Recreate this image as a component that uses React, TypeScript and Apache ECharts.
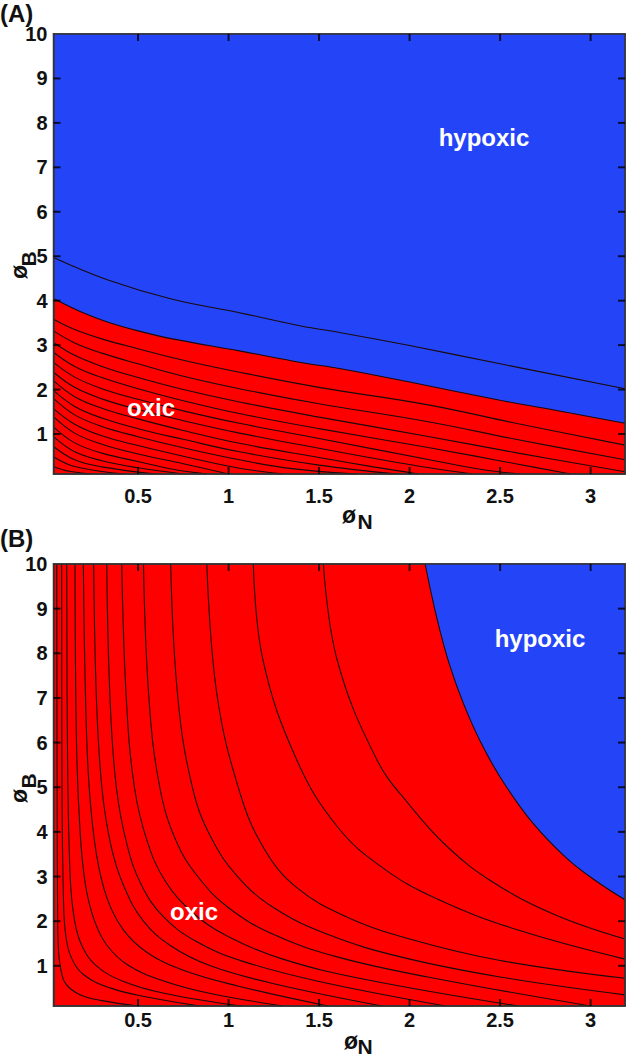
import React, { useEffect, useRef } from "react";
import * as echarts from "echarts";

// ---------- axes ----------
const X_MIN = 0.033;
const X_MAX = 3.19;
const Y_MIN = 0.1;
const Y_MAX = 10;
const xTickValues = [0.5, 1, 1.5, 2, 2.5, 3];
const yTickValues = [1, 2, 3, 4, 5, 6, 7, 8, 9, 10];

// ---------- panel A ----------
const boundaryA = [
  [0.033, 4.05], [0.2, 3.72], [0.33, 3.52], [0.5, 3.32], [0.69, 3.14], [1.06, 2.87],
  [1.4, 2.61], [1.62, 2.47], [2.0, 2.17], [2.5, 1.76], [2.85, 1.5], [3.19, 1.24],
];
const upperLineA = [
  [0.033, 4.97], [0.33, 4.47], [0.69, 4.03], [1.06, 3.73], [1.4, 3.43], [1.62, 3.28],
  [2.0, 2.99], [2.5, 2.58], [3.19, 2.02],
];
const contoursA = [
  [[0.033, 3.58], [0.15, 3.35], [0.3, 3.14], [0.5, 2.92], [0.75, 2.66], [1.06, 2.39], [1.5, 2.05], [2.11, 1.65], [2.6, 1.23], [3.19, 0.75]],
  [[0.033, 3.32], [0.15, 3.05], [0.3, 2.82], [0.5, 2.58], [0.75, 2.3], [1.06, 2.02], [1.5, 1.68], [2.11, 1.27], [2.6, 0.87], [3.19, 0.42]],
  [[0.033, 3.06], [0.15, 2.77], [0.3, 2.52], [0.5, 2.27], [0.75, 2.0], [1.06, 1.72], [1.5, 1.38], [2.11, 0.94], [2.6, 0.57], [3.19, 0.15]],
  [[0.033, 2.84], [0.15, 2.52], [0.3, 2.27], [0.5, 2.02], [0.75, 1.75], [1.06, 1.46], [1.5, 1.12], [2.11, 0.69], [2.6, 0.32], [2.89, 0.1]],
  [[0.033, 2.61], [0.15, 2.28], [0.3, 2.02], [0.5, 1.78], [0.75, 1.52], [1.06, 1.24], [1.5, 0.9], [2.11, 0.42], [2.4, 0.2], [2.61, 0.1]],
  [[0.033, 2.39], [0.15, 2.05], [0.3, 1.79], [0.5, 1.55], [0.75, 1.3], [1.06, 1.02], [1.5, 0.68], [1.9, 0.38], [2.11, 0.24], [2.35, 0.1]],
  [[0.033, 2.2], [0.15, 1.84], [0.3, 1.58], [0.5, 1.34], [0.75, 1.08], [1.06, 0.79], [1.5, 0.47], [1.8, 0.26], [2.05, 0.1]],
  [[0.033, 1.98], [0.15, 1.62], [0.3, 1.36], [0.5, 1.12], [0.75, 0.88], [1.06, 0.6], [1.5, 0.3], [1.93, 0.1]],
  [[0.033, 1.8], [0.15, 1.43], [0.3, 1.17], [0.5, 0.94], [0.75, 0.69], [1.06, 0.42], [1.35, 0.22], [1.71, 0.1]],
  [[0.033, 1.57], [0.15, 1.22], [0.3, 0.96], [0.5, 0.74], [0.75, 0.5], [1.06, 0.23], [1.3, 0.1]],
  [[0.033, 1.39], [0.15, 1.02], [0.3, 0.77], [0.5, 0.55], [0.75, 0.33], [1.0, 0.1]],
  [[0.033, 1.16], [0.15, 0.8], [0.3, 0.57], [0.5, 0.38], [0.7, 0.2], [0.88, 0.1]],
  [[0.033, 0.94], [0.15, 0.6], [0.3, 0.4], [0.5, 0.24], [0.75, 0.1]],
  [[0.033, 0.72], [0.15, 0.42], [0.3, 0.26], [0.6, 0.1]],
  [[0.033, 0.49], [0.15, 0.27], [0.42, 0.1]],
  [[0.033, 0.27], [0.12, 0.16], [0.25, 0.1]],
];

// ---------- panel B ----------
const boundaryB = [
  [2.086, 10], [2.15, 8.8], [2.22, 7.75], [2.3, 6.85], [2.4, 5.95], [2.52, 5.1],
  [2.68, 4.2], [2.87, 3.4], [3.03, 2.9], [3.19, 2.48],
];
const contoursB = [
  [[0.051, 10], [0.053, 5], [0.056, 2], [0.06, 1.4], [0.07, 1.0], [0.1, 0.6], [0.18, 0.35], [0.3, 0.22], [0.5, 0.1]],
  [[0.078, 10], [0.08, 5], [0.088, 2.5], [0.1, 1.7], [0.13, 1.2], [0.2, 0.8], [0.35, 0.5], [0.55, 0.3], [0.84, 0.1]],
  [[0.106, 10], [0.11, 6], [0.125, 3], [0.15, 2], [0.19, 1.45], [0.27, 1.0], [0.42, 0.65], [0.65, 0.38], [1.07, 0.1]],
  [[0.152, 10], [0.16, 6], [0.18, 4], [0.21, 2.8], [0.26, 2.0], [0.33, 1.45], [0.45, 1.0], [0.65, 0.65], [0.9, 0.38], [1.3, 0.1]],
  [[0.198, 10], [0.21, 7], [0.23, 5], [0.27, 3.5], [0.33, 2.5], [0.42, 1.8], [0.55, 1.3], [0.75, 0.9], [1.05, 0.55], [1.55, 0.1]],
  [[0.255, 10], [0.27, 7], [0.3, 5], [0.35, 3.7], [0.42, 2.8], [0.53, 2.0], [0.68, 1.45], [0.9, 1.0], [1.25, 0.6], [1.85, 0.1]],
  [[0.327, 10], [0.345, 7], [0.38, 5], [0.44, 3.7], [0.52, 2.8], [0.64, 2.1], [0.82, 1.55], [1.08, 1.1], [1.5, 0.65], [2.2, 0.1]],
  [[0.41, 10], [0.435, 7], [0.48, 5], [0.55, 3.8], [0.65, 2.9], [0.8, 2.2], [1.0, 1.65], [1.3, 1.15], [1.75, 0.7], [2.6, 0.1]],
  [[0.53, 10], [0.56, 7], [0.62, 5], [0.71, 3.8], [0.83, 3.0], [1.0, 2.3], [1.25, 1.7], [1.6, 1.2], [2.1, 0.75], [3.0, 0.1]],
  [[0.68, 10], [0.72, 7], [0.8, 5], [0.9, 3.9], [1.05, 3.0], [1.25, 2.3], [1.55, 1.7], [1.95, 1.2], [2.5, 0.75], [3.19, 0.35]],
  [[0.88, 10], [0.935, 7.1], [1.064, 4.86], [1.2, 3.6], [1.377, 2.75], [1.65, 2.1], [2.0, 1.6], [2.5, 1.12], [3.19, 0.72]],
  [[1.137, 10], [1.19, 7.85], [1.377, 5.61], [1.6, 4.12], [1.85, 3.2], [2.15, 2.5], [2.6, 1.8], [3.19, 1.15]],
  [[1.524, 10], [1.6, 7.85], [1.82, 5.61], [2.0, 4.6], [2.2, 3.7], [2.45, 2.9], [2.8, 2.15], [3.19, 1.6]],
];

const RED = "#ff0000";
const BLUE = "#2444f8";
const LINE = "#1a0a0a";
const FONT = '"Liberation Sans", Arial, sans-serif';
const TICK_LEN = 7;

function makeAxes(gridIndex: number, labelMargin: number) {
  const common = {
    gridIndex,
    type: "value" as const,
    z: 5,
    splitLine: { show: false },
    axisTick: { show: false },
    axisLine: { show: true, onZero: false, lineStyle: { color: "#333", width: 1.5 } },
  };
  const label = {
    show: true,
    fontSize: 20,
    fontWeight: "bold",
    fontFamily: FONT,
    color: "#111",
  };
  const xs = [
    { ...common, position: "bottom", min: X_MIN, max: X_MAX, axisLabel: { ...label, customValues: xTickValues, margin: labelMargin } },
    { ...common, position: "top", min: X_MIN, max: X_MAX, axisLabel: { show: false } },
  ];
  const ys = [
    { ...common, position: "left", min: Y_MIN, max: Y_MAX, axisLabel: { ...label, customValues: yTickValues, margin: 6 } },
    { ...common, position: "right", min: Y_MIN, max: Y_MAX, axisLabel: { show: false } },
  ];
  return { xs, ys };
}

function lineSeries(data: number[][], axisIdx: number) {
  return {
    type: "line",
    xAxisIndex: axisIdx,
    yAxisIndex: axisIdx,
    data,
    showSymbol: false,
    symbol: "none",
    smooth: 0.4,
    silent: true,
    z: 3,
    lineStyle: { color: LINE, width: 1.1 },
  };
}

function areaSeries(data: number[][], axisIdx: number) {
  return {
    type: "line",
    xAxisIndex: axisIdx,
    yAxisIndex: axisIdx,
    data,
    showSymbol: false,
    symbol: "none",
    smooth: 0.4,
    silent: true,
    z: 2,
    lineStyle: { color: LINE, width: 1.1 },
    areaStyle: { color: BLUE, opacity: 1, origin: "end" },
  };
}

// inward tick marks drawn as small rect symbols placed through the axes
function tickSeries(axisIdx: number) {
  const base = {
    type: "scatter",
    xAxisIndex: axisIdx,
    yAxisIndex: axisIdx,
    symbol: "rect",
    silent: true,
    clip: false,
    z: 6,
    itemStyle: { color: "#000" },
  };
  return [
    { ...base, data: xTickValues.map((v) => [v, Y_MIN]), symbolSize: [2, TICK_LEN], symbolOffset: [0, -TICK_LEN / 2] },
    { ...base, data: xTickValues.map((v) => [v, Y_MAX]), symbolSize: [2, TICK_LEN], symbolOffset: [0, TICK_LEN / 2] },
    { ...base, data: yTickValues.filter((v) => v < Y_MAX).map((v) => [X_MIN, v]), symbolSize: [TICK_LEN, 2], symbolOffset: [TICK_LEN / 2, 0] },
    { ...base, data: yTickValues.filter((v) => v < Y_MAX).map((v) => [X_MAX, v]), symbolSize: [TICK_LEN, 2], symbolOffset: [-TICK_LEN / 2, 0] },
  ];
}

function txt(text: string, x: number, y: number, size: number, fill: string, align = "center", rotation = 0) {
  return {
    type: "text",
    x,
    y,
    rotation,
    z: 10,
    silent: true,
    style: {
      text,
      fill,
      font: `bold ${size}px ${FONT}`,
      textAlign: align,
      textVerticalAlign: "middle",
    },
  };
}

export default function App() {
  const ref = useRef<HTMLDivElement>(null);
  useEffect(() => {
    if (!ref.current) return;
    const chart = echarts.init(ref.current, undefined, { renderer: "svg" });
    const a = makeAxes(0, 12);
    const b = makeAxes(1, 4);
    const series: any[] = [];
    // panel A uses axis index 0, panel B uses axis index 2
    series.push(areaSeries(boundaryA, 0));
    series.push(lineSeries(upperLineA, 0));
    contoursA.forEach((c) => series.push(lineSeries(c, 0)));
    series.push(...tickSeries(0));
    series.push(areaSeries(boundaryB, 2));
    contoursB.forEach((c) => series.push(lineSeries(c, 2)));
    series.push(...tickSeries(2));

    const option: any = {
      animation: false,
      grid: [
        { left: 53.5, top: 34, width: 571.5, height: 440, show: true, backgroundColor: RED, borderColor: "#333", borderWidth: 1.5 },
        { left: 53.5, top: 564, width: 571.5, height: 442, show: true, backgroundColor: RED, borderColor: "#333", borderWidth: 1.5 },
      ],
      xAxis: [...a.xs, ...b.xs],
      yAxis: [...a.ys, ...b.ys],
      series,
      graphic: [
        txt("(A)", 0, 13, 24, "#111", "left"),
        txt("(B)", 0, 538, 24, "#111", "left"),
        txt("hypoxic", 484, 137, 24, "#fff"),
        txt("oxic", 151, 407, 24, "#fff"),
        txt("hypoxic", 540, 638, 24, "#fff"),
        txt("oxic", 194, 911, 24, "#fff"),
        // x-axis names
        txt("ø", 349, 515, 23, "#111"),
        txt("N", 365, 521, 21, "#111"),
        txt("ø", 351, 1041, 23, "#111"),
        txt("N", 365, 1046, 21, "#111"),
        // y-axis names (rotated)
        txt("ø", 19, 272, 23, "#111", "center", Math.PI / 2),
        txt("B", 28, 259, 21, "#111", "center", Math.PI / 2),
        txt("ø", 19, 796, 23, "#111", "center", Math.PI / 2),
        txt("B", 28, 781, 21, "#111", "center", Math.PI / 2),
      ],
    };
    chart.setOption(option);
    return () => chart.dispose();
  }, []);
  return <div ref={ref} style={{ position: "absolute", left: 0, top: 0, width: 626, height: 1056 }} />;
}
